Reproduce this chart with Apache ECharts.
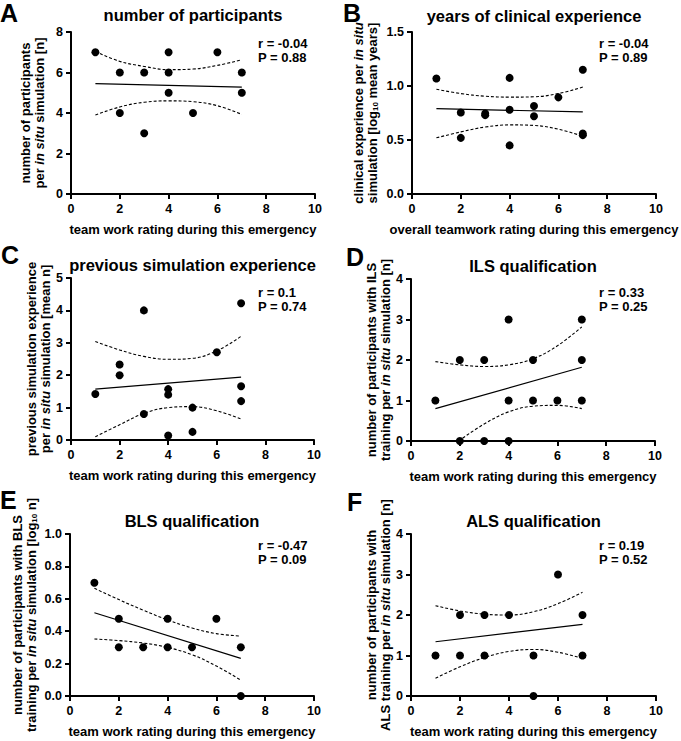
<!DOCTYPE html>
<html><head><meta charset="utf-8">
<script src="https://cdn.jsdelivr.net/npm/echarts@6/dist/echarts.min.js"></script>
<style>html,body{margin:0;padding:0;background:#fff}#c{width:681px;height:741px}</style>
</head><body><div id="c"></div>
<script>
const FONT = 'Liberation Sans, Arial, Helvetica, sans-serif';

// ---- data ----
const panelLetters = ['A','B','C','D','E','F'];
const titles = ['number of participants','years of clinical experience','previous simulation experience','ILS qualification','BLS qualification','ALS qualification'];
const xNames = ['team work rating during this emergency','overall teamwork rating during this emergency','team work rating during this emergency','team work rating during this emergency','team work rating during this emergency','team work rating during this emergency'];
const rTexts = ['r = -0.04','r = -0.04','r = 0.1','r = 0.33','r = -0.47','r = 0.19'];
const pTexts = ['P = 0.88','P = 0.89','P = 0.74','P = 0.25','P = 0.09','P = 0.52'];
const xTicks = [0,2,4,6,8,10];
const yMax = [8,1.5,5,4,1.0,4];
const yStep = [2,0.5,1,1,0.2,1];
const yDecimals = [0,1,0,0,1,0];

const ptsA = [[1,7],[2,6],[2,4],[3,6],[3,3],[4,7],[4,6],[4,5],[5,4],[6,7],[7,6],[7,5]];
const fitA = [[1,5.45],[7,5.28]];
const upA = [[1,7.04],[2,6.55],[3,6.3],[4,6.14],[5,6.17],[6,6.35],[7,6.63]];
const loA = [[1,3.9],[2,4.3],[3,4.53],[4,4.6],[5,4.56],[6,4.36],[7,3.93]];

const ptsB = [[1,1.07],[2,0.755],[2,0.52],[3,0.745],[3,0.73],[4,1.075],[4,0.78],[4,0.45],[5,0.815],[5,0.72],[6,0.895],[7,1.15],[7,0.56],[7,0.545]];
const fitB = [[1,0.79],[7,0.76]];
const upB = [[1,0.97],[2,0.93],[3,0.905],[4,0.897],[5,0.9],[6,0.93],[7,0.99]];
const loB = [[1,0.52],[2,0.575],[3,0.62],[4,0.64],[5,0.635],[6,0.6],[7,0.535]];

const ptsC = [[1,1.42],[2,2.33],[2,2.0],[3,4.0],[3,0.8],[4,1.57],[4,1.4],[4,0.14],[5,1.0],[5,0.25],[6,2.71],[7,4.22],[7,1.66],[7,1.2]];
const fitC = [[1,1.57],[7,1.94]];
const upC = [[1,3.04],[2,2.78],[3,2.58],[4,2.49],[5,2.52],[6,2.75],[7,3.2]];
const loC = [[1,0.1],[2,0.47],[3,0.82],[4,1.0],[5,1.03],[6,0.9],[7,0.65]];

const ptsD = [[1,1],[2,2],[2,0],[3,2],[3,0],[4,3],[4,1],[4,0],[5,2],[5,1],[6,1],[7,3],[7,2],[7,1]];
const fitD = [[1,0.8],[7,1.82]];
const upD = [[1,1.96],[2,1.88],[3,1.84],[4,1.88],[5,2.03],[6,2.35],[7,2.82]];
const loD = [[1.95,0],[3,0.42],[4,0.72],[5,0.86],[6,0.88],[7,0.8]];

const ptsE = [[1,0.699],[2,0.477],[2,0.301],[3,0.301],[4,0.477],[4,0.301],[5,0.301],[6,0.477],[7,0.301],[7,0]];
const fitE = [[1,0.514],[7,0.232]];
const upE = [[1,0.665],[2,0.595],[3,0.53],[4,0.47],[5,0.42],[6,0.385],[7,0.37]];
const loE = [[1,0.352],[2,0.342],[3,0.327],[4,0.3],[5,0.255],[6,0.185],[7,0.098]];

const ptsF = [[1,1],[2,2],[2,1],[3,2],[3,1],[4,2],[5,1],[5,0],[6,3],[7,2],[7,1]];
const fitF = [[1,1.34],[7,1.77]];
const upF = [[1,2.23],[2,2.1],[3,2.02],[4,2.0],[5,2.08],[6,2.28],[7,2.56]];
const loF = [[1,0.44],[2,0.72],[3,0.95],[4,1.1],[5,1.15],[6,1.08],[7,0.93]];

const points = [ptsA,ptsB,ptsC,ptsD,ptsE,ptsF];
const fits = [fitA,fitB,fitC,fitD,fitE,fitF];
const uppers = [upA,upB,upC,upD,upE,upF];
const lowers = [loA,loB,loC,loD,loE,loF];

// ---- layout ----
const grids = [
  {left:71, top:32, width:244, height:162},
  {left:412, top:32, width:244, height:162},
  {left:71, top:278, width:243, height:162},
  {left:411, top:279, width:244, height:162},
  {left:70, top:534, width:244, height:162},
  {left:411, top:534, width:245, height:162}
];
const yNameGap = [25,33,17,17,32,17];
const xNameGap = [29,29,29,29,29,29];
const yNames = [
  '{n|number of participants}\n{n|per }{i|in situ}{n| simulation [n]}',
  '{n|clinical experience per }{i|in situ}\n{n|simulation [log}{s|10}{n| mean years]}',
  '{n|previous simulation experience}\n{n|per }{i|in situ}{n| simulation [mean n]}',
  '{n|number of participants with ILS}\n{n|training per }{i|in situ}{n| simulation [n]}',
  '{n|number of participants with BLS}\n{n|training per }{i|in situ}{n| simulation [log}{s|10}{n| n]}',
  '{n|number of participants with}\n{n|ALS training per }{i|in situ}{n| simulation [n]}'
];
const titleY = [15,16,265,266,521,521];
const letterPos = [[0,0],[343,0],[1,242],[346,244],[0,487],[347,489]];
const statPos = [[258,36],[599,36],[258,285],[599,285],[258,538],[599,538]];

const rich = {
  n:{fontFamily:FONT,fontWeight:'bold',fontSize:13,color:'#000',lineHeight:14},
  i:{fontFamily:FONT,fontWeight:'bold',fontStyle:'italic',fontSize:13,color:'#000',lineHeight:14},
  s:{fontFamily:FONT,fontWeight:'bold',fontSize:8,color:'#000',lineHeight:14,verticalAlign:'bottom',padding:[6,0,0,0]}
};

const option = {
  backgroundColor:'#fff',
  animation:false,
  grid: grids,
  xAxis: grids.map((g,i)=>({
    type:'value', gridIndex:i, min:xTicks[0], max:xTicks[xTicks.length-1], interval:2,
    name:xNames[i], nameLocation:'middle', nameGap:xNameGap[i],
    nameTextStyle:{fontFamily:FONT,fontWeight:'bold',fontSize:13,color:'#000',verticalAlign:'top'},
    axisLine:{lineStyle:{color:'#000',width:2}},
    axisTick:{length:5,lineStyle:{color:'#000',width:2}},
    axisLabel:{fontFamily:FONT,fontWeight:'bold',fontSize:12.5,color:'#000',margin:8},
    splitLine:{show:false}
  })),
  yAxis: grids.map((g,i)=>({
    type:'value', gridIndex:i, min:0, max:yMax[i], interval:yStep[i],
    name:yNames[i], nameLocation:'middle', nameGap:yNameGap[i], nameRotate:90,
    nameTextStyle:{fontFamily:FONT,fontWeight:'bold',fontSize:13,color:'#000',lineHeight:14,rich:rich},
    axisLine:{lineStyle:{color:'#000',width:2}},
    axisTick:{length:5,lineStyle:{color:'#000',width:2}},
    axisLabel:{fontFamily:FONT,fontWeight:'bold',fontSize:12.5,color:'#000',margin:8,
      formatter:(v)=>v.toFixed(yDecimals[i])},
    splitLine:{show:false}
  })),
  series: [],
  graphic: []
};

for (let i=0;i<6;i++){
  option.series.push({type:'scatter',xAxisIndex:i,yAxisIndex:i,data:points[i],symbolSize:8,itemStyle:{color:'#000',opacity:1},z:5});
  option.series.push({type:'line',xAxisIndex:i,yAxisIndex:i,data:fits[i],symbol:'none',lineStyle:{color:'#000',width:1.2}});
  option.series.push({type:'line',xAxisIndex:i,yAxisIndex:i,data:uppers[i],symbol:'none',smooth:0.4,lineStyle:{color:'#000',width:1.1,type:[3,2]}});
  option.series.push({type:'line',xAxisIndex:i,yAxisIndex:i,data:lowers[i],symbol:'none',smooth:0.4,lineStyle:{color:'#000',width:1.1,type:[3,2]}});
  const g = grids[i];
  option.graphic.push({type:'text',left:letterPos[i][0],top:letterPos[i][1],
    style:{text:panelLetters[i],font:'bold 25px '+FONT,fill:'#000'}});
  option.graphic.push({type:'text',x:g.left+g.width/2,y:titleY[i],
    style:{text:titles[i],font:'bold 16.5px '+FONT,fill:'#000',align:'center',verticalAlign:'middle'}});
  option.graphic.push({type:'text',x:statPos[i][0],y:statPos[i][1],
    style:{text:rTexts[i]+'\n'+pTexts[i],font:'bold 13px '+FONT,fill:'#000',lineHeight:14,verticalAlign:'top'}});
}

const chart = echarts.init(document.getElementById('c'),null,{renderer:'svg'});
chart.setOption(option);
</script></body></html>
